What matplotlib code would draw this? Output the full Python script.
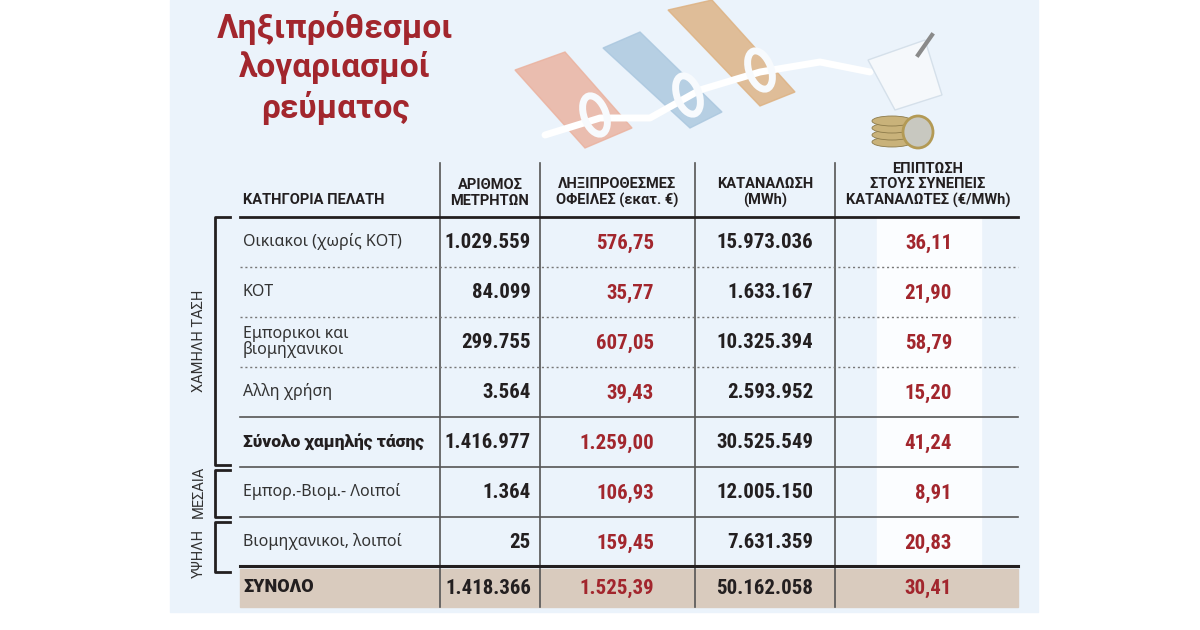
import matplotlib
matplotlib.use("Agg")
import matplotlib.pyplot as plt
from matplotlib import font_manager
from matplotlib.patches import Rectangle, Polygon, Ellipse
import numpy as np

# ---- data ----
title_lines = ["Ληξιπρόθεσμοι", "λογαριασμοί", "ρεύματος"]

headers = [
    "ΚΑΤΗΓΟΡΙΑ ΠΕΛΑΤΗ",
    "ΑΡΙΘΜΟΣ\nΜΕΤΡΗΤΩΝ",
    "ΛΗΞΙΠΡΟΘΕΣΜΕΣ\nΟΦΕΙΛΕΣ (εκατ. €)",
    "ΚΑΤΑΝΑΛΩΣΗ\n(MWh)",
    "ΕΠΙΠΤΩΣΗ\nΣΤΟΥΣ ΣΥΝΕΠΕΙΣ\nΚΑΤΑΝΑΛΩΤΕΣ (€/MWh)",
]

categories = [
    "Οικιακοι (χωρίς ΚΟΤ)",
    "ΚΟΤ",
    "Εμπορικοι και\nβιομηχανικοι",
    "Αλλη χρήση",
    "Σύνολο χαμηλής τάσης",
    "Εμπορ.-Βιομ.- Λοιποί",
    "Βιομηχανικοι, λοιποί",
    "ΣΥΝΟΛΟ",
]
meters = [1029559, 84099, 299755, 3564, 1416977, 1364, 25, 1418366]
overdue = [576.75, 35.77, 607.05, 39.43, 1259.00, 106.93, 159.45, 1525.39]
consumption = [15973036, 1633167, 10325394, 2593952, 30525549, 12005150, 7631359, 50162058]
impact = [36.11, 21.90, 58.79, 15.20, 41.24, 8.91, 20.83, 30.41]
bold_rows = [4, 7]
separators = ["dotted", "dotted", "dotted", "solid", "solid", "solid", "double"]
# group name, first row, last row
groups = [("ΧΑΜΗΛΗ ΤΑΣΗ", 0, 4), ("ΜΕΣΑΙΑ", 5, 5), ("ΥΨΗΛΗ", 6, 6)]


def fmt_int(v):
    return f"{v:,}".replace(",", ".")


def fmt_dec(v):
    return f"{v:,.2f}".replace(",", "X").replace(".", ",").replace("X", ".")


installed = {f.name for f in font_manager.fontManager.ttflist}


def pick(*names):
    for n in names:
        if n in installed:
            return n
    return "DejaVu Sans"


num_font = pick("Liberation Sans Narrow", "Roboto Condensed", "DejaVu Sans")
num_stretch = "normal" if num_font != "DejaVu Sans" else "condensed"
head_font = pick("Roboto", "Open Sans", "DejaVu Sans")
label_font = pick("Noto Sans", "Open Sans", "DejaVu Sans")

RED = "#a2262d"
DARK = "#231f20"
GREY = "#333333"
PANEL = "#ebf3fb"
TAN = "#d9cbbe"

fig = plt.figure(figsize=(12, 6.3), dpi=100)
ax = fig.add_axes([0, 0, 1, 1])
ax.set_xlim(0, 1200)
ax.set_ylim(630, 0)
ax.axis("off")

# background panel
ax.add_patch(Rectangle((170, 0), 868, 612, color=PANEL, zorder=0))

# rough sketch of the photo (banknotes on a cable)
notes = [
    ([(515, 70), (565, 52), (632, 128), (585, 148)], "#eab09c"),
    ([(603, 48), (640, 32), (722, 112), (690, 128)], "#a9c6de"),
    ([(668, 10), (712, 0), (795, 92), (760, 106)], "#ddb07f"),
]
for pts, c in notes:
    ax.add_patch(Polygon(pts, closed=True, color=c, alpha=0.8, zorder=1))
cx = [545, 600, 650, 700, 760, 820, 870]
cy = [135, 118, 118, 90, 72, 62, 72]
ax.plot(cx, cy, color="white", lw=5, solid_capstyle="round", zorder=2)
for (ex, ey) in [(595, 115), (688, 95), (760, 70)]:
    ax.add_patch(Ellipse((ex, ey), 22, 40, angle=-20, fill=False, ec="#f7fafd", lw=5, zorder=3))
ax.add_patch(Polygon([(868, 60), (925, 40), (942, 95), (895, 110)], closed=True,
                     fc="#f5f8fb", ec="#d5e0ea", zorder=3))
ax.plot([918, 932], [55, 35], color="#8a8a8a", lw=3, zorder=3)
for i in range(4):
    ax.add_patch(Ellipse((892, 142 - i * 7), 40, 10, fc="#c9b27a", ec="#8c7a4a", lw=0.6, zorder=3))
ax.add_patch(Ellipse((918, 132), 30, 32, fc="#c8c8c0", ec="#b39a55", lw=2, zorder=4))

# title
for i, line in enumerate(title_lines):
    ax.text(335, 28 + i * 40, line, ha="center", va="center", color=RED,
            fontsize=24, fontweight="bold", family=head_font, zorder=5)

# columns
col_lines = [440, 540, 695, 835]
num_right = [531, 654, 813, 952]
head_x = [243, 490, 617, 765, 928]
top_line = 217
row_h = [50, 50, 50, 50, 50, 50, 50, 40]
edges = np.concatenate([[top_line], top_line + np.cumsum(row_h)])
x_left, x_right = 240, 1018

# highlight of last column and total band
ax.add_patch(Rectangle((877, top_line), 104, edges[7] - top_line, color="#fbfdff", zorder=1))
ax.add_patch(Rectangle((x_left, edges[7] + 2), x_right - x_left, edges[8] - edges[7] - 2,
                       color=TAN, zorder=1))

for x in col_lines:
    ax.plot([x, x], [163, edges[8]], color="#555555", lw=1.2, zorder=2)

# headers
ax.text(head_x[0], 200, headers[0], ha="left", va="center", fontsize=10.5,
        fontweight="bold", family=head_font, color=DARK, zorder=5)
for j in range(1, 5):
    ax.text(head_x[j], 208, headers[j], ha="center", va="bottom", fontsize=10.5,
            fontweight="bold", family=head_font, color=DARK, linespacing=1.15, zorder=5)
ax.plot([x_left, x_right], [top_line, top_line], color=DARK, lw=2, zorder=3)

# separators
for k, style in enumerate(separators):
    y = edges[k + 1]
    if style == "dotted":
        ax.plot([x_left, x_right], [y, y], color="#777777", lw=1, ls=(0, (1.5, 2)), zorder=3)
    elif style == "solid":
        ax.plot([x_left, x_right], [y, y], color="#555555", lw=1.2, zorder=3)
    else:
        ax.plot([x_left, x_right], [y - 1, y - 1], color=DARK, lw=2.2, zorder=3)

# rows
for i, cat in enumerate(categories):
    yc = (edges[i] + edges[i + 1]) / 2
    bold = i in bold_rows
    if bold:
        ax.text(243, yc, cat, ha="left", va="center", fontsize=12.5 if i != 7 else 13,
                fontweight="heavy", family=head_font, color=DARK, zorder=5)
    else:
        ax.text(243, yc, cat, ha="left", va="center", fontsize=11.5,
                family=label_font, color=GREY, linespacing=1.0, zorder=5)
    vals = [fmt_int(meters[i]), fmt_dec(overdue[i]), fmt_int(consumption[i]), fmt_dec(impact[i])]
    colors = [DARK, RED, DARK, RED]
    for j, v in enumerate(vals):
        ax.text(num_right[j], yc + 1, v, ha="right", va="center", fontsize=15,
                fontweight="bold", family=num_font, fontstretch=num_stretch,
                color=colors[j], zorder=5)

# group brackets
bx = 215
bracket_y = [(217, 465), (470, 517), (522, 572)]
label_y = [341, 492, 553]
for (name, r0, r1), (y0, y1), ly in zip(groups, bracket_y, label_y):
    ax.plot([230, bx, bx, 230], [y0, y0, y1, y1], color=DARK, lw=2, zorder=4)
    ax.text(199, ly, name, rotation=90, ha="center", va="center",
            fontsize=10.5, family=head_font, color=GREY, zorder=5)

fig.savefig("out.png", dpi=100)
